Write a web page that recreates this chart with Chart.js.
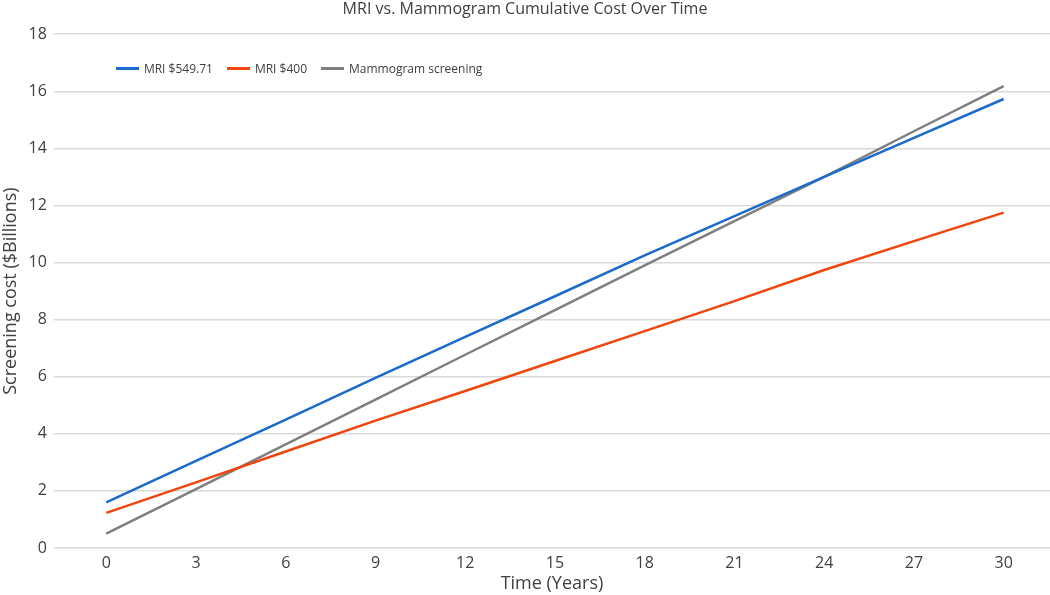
<!DOCTYPE html>
<html>
<head>
<meta charset="utf-8">
<script src="https://cdn.jsdelivr.net/npm/chart.js@4.4.1/dist/chart.umd.min.js"></script>
<style>
  body { margin: 0; background: #fff; }
  #wrap { position: relative; width: 1050px; height: 595px; }
  #legend { position: absolute; display: flex; align-items: center; font-family: 'Open Sans', sans-serif; font-size: 12px; color: #404040; white-space: nowrap; }
  #legend .item { display: flex; align-items: center; margin-right: 14px; }
  #legend .swatch { width: 23px; height: 3px; margin-right: 5px; }
</style>
</head>
<body>
<div id="wrap">
  <canvas id="costChart" width="1050" height="595"></canvas>
  <div id="legend"></div>
</div>
<script>
// years and cumulative cost ($ billions)
const years = [0, 3, 6, 9, 12, 15, 18, 21, 24, 27, 30];
const mri549 = [1.6, 3.05, 4.5, 5.96, 7.4, 8.82, 10.25, 11.63, 13.0, 14.37, 15.73];
const mri400 = [1.23, 2.3, 3.38, 4.46, 5.5, 6.55, 7.6, 8.65, 9.74, 10.75, 11.75];
const mammo = [0.5, 2.06, 3.63, 5.2, 6.77, 8.33, 9.9, 11.45, 13.0, 14.6, 16.18];
const seriesNames = ['MRI $549.71', 'MRI $400', 'Mammogram screening'];
const seriesColors = ['#1A6BCB', '#F0450C', '#7F7F7F'];

const textColor = '#404040';
Chart.defaults.font.family = "'Open Sans', sans-serif";
Chart.defaults.color = textColor;

function toPoints(values) {
    return years.map((x, i) => ({ x: x, y: values[i] }));
}

const datasets = [mri549, mri400, mammo].map((values, i) => ({
    label: seriesNames[i],
    data: toPoints(values),
    borderColor: seriesColors[i],
    backgroundColor: seriesColors[i],
    borderWidth: 2.5,
    pointRadius: 0,
    tension: 0
}));

// legend sits inside the plot, like the original
const htmlLegend = {
    id: 'htmlLegend',
    afterUpdate(chart) {
        const box = document.getElementById('legend');
        box.innerHTML = '';
        chart.data.datasets.forEach(ds => {
            const item = document.createElement('div');
            item.className = 'item';
            const sw = document.createElement('span');
            sw.className = 'swatch';
            sw.style.background = ds.borderColor;
            const txt = document.createElement('span');
            txt.textContent = ds.label;
            item.appendChild(sw);
            item.appendChild(txt);
            box.appendChild(item);
        });
        const area = chart.chartArea;
        box.style.left = (area.left + 62) + 'px';
        box.style.top = (area.top + 26) + 'px';
    }
};

const ctx = document.getElementById('costChart').getContext('2d');
const costChart = new Chart(ctx, {
    type: 'line',
    data: { datasets: datasets },
    options: {
        responsive: false,
        animation: false,
        devicePixelRatio: 1,
        layout: { padding: 0 },
        plugins: {
            legend: { display: false },
            tooltip: { enabled: false },
            title: {
                display: true,
                text: 'MRI vs. Mammogram Cumulative Cost Over Time',
                color: textColor,
                font: { size: 16, weight: 'normal' },
                padding: { top: 0, bottom: 15 }
            }
        },
        scales: {
            x: {
                type: 'linear',
                min: -1.75,
                max: 31.55,
                grid: { display: false, drawTicks: false },
                border: { display: false },
                ticks: { stepSize: 3, includeBounds: false, padding: 7, color: textColor, font: { size: 16, lineHeight: 1 } },
                title: { display: true, text: 'Time (Years)', color: textColor, font: { size: 18, lineHeight: 1 }, padding: { top: -3, bottom: 2 } }
            },
            y: {
                min: 0,
                max: 18,
                grid: { color: '#D9D9D9', lineWidth: 1.5, drawTicks: false },
                border: { display: false },
                ticks: { stepSize: 2, padding: 7, color: textColor, font: { size: 16 } },
                title: { display: true, text: 'Screening cost ($Billions)', color: textColor, font: { size: 18 }, padding: 0 }
            }
        }
    },
    plugins: [htmlLegend]
});
</script>
</body>
</html>
